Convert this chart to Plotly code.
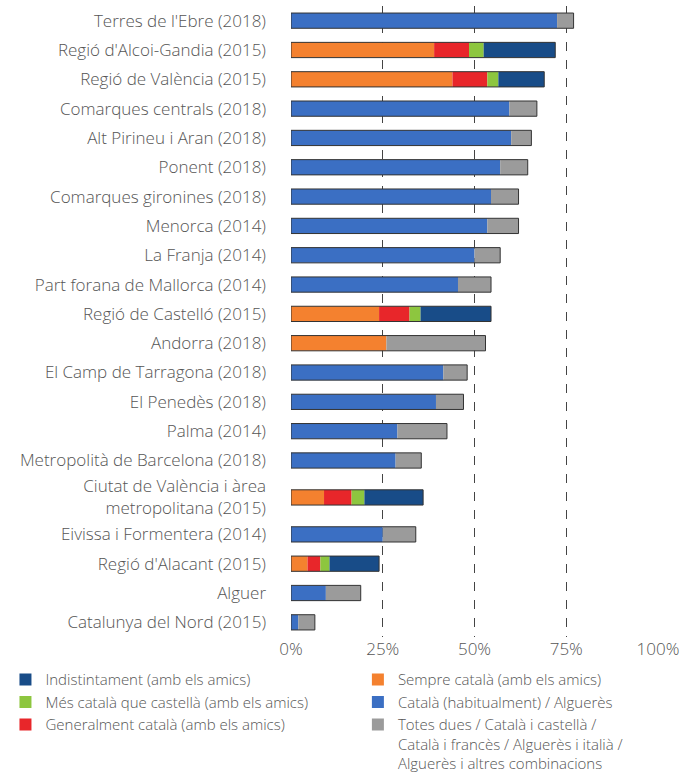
import plotly.graph_objects as go

categories = [
    "Terres de l'Ebre (2018)",
    "Regió d'Alcoi-Gandia (2015)",
    "Regió de València (2015)",
    "Comarques centrals (2018)",
    "Alt Pirineu i Aran (2018)",
    "Ponent (2018)",
    "Comarques gironines (2018)",
    "Menorca (2014)",
    "La Franja (2014)",
    "Part forana de Mallorca (2014)",
    "Regió de Castelló (2015)",
    "Andorra (2018)",
    "El Camp de Tarragona (2018)",
    "El Penedès (2018)",
    "Palma (2014)",
    "Metropolità de Barcelona (2018)",
    "Ciutat de València i àrea<br>metropolitana (2015)",
    "Eivissa i Formentera (2014)",
    "Regió d'Alacant (2015)",
    "Alguer",
    "Catalunya del Nord (2015)",
]

sempre     = [0, 39, 44, 0, 0, 0, 0, 0, 0, 0, 24, 26, 0, 0, 0, 0, 9, 0, 4.5, 0, 0]
general    = [0, 9.5, 9.5, 0, 0, 0, 0, 0, 0, 0, 8.3, 0, 0, 0, 0, 0, 7.5, 0, 3.5, 0, 0]
mes        = [0, 4, 3, 0, 0, 0, 0, 0, 0, 0, 3, 0, 0, 0, 0, 0, 3.5, 0, 2.5, 0, 0]
indist     = [0, 19.5, 12.5, 0, 0, 0, 0, 0, 0, 0, 19.2, 0, 0, 0, 0, 0, 16, 0, 13.5, 0, 0]
catala     = [72.5, 0, 0, 59.5, 60, 57, 54.5, 53.5, 50, 45.5, 0, 0, 41.5, 39.5, 29, 28.5, 0, 25, 0, 9.5, 2]
totes      = [4.5, 0, 0, 7.5, 5.5, 7.5, 7.5, 8.5, 7, 9, 0, 27, 6.5, 7.5, 13.5, 7, 0, 9, 0, 9.5, 4.5]

tick_vals = [0, 25, 50, 75, 100]
tick_text = ["0%", "25%", "50%", "75%", "100%"]

names = {
    "indist": "Indistintament (amb els amics)",
    "sempre": "Sempre català (amb els amics)",
    "mes": "Més català que castellà (amb els amics)",
    "catala": "Català (habitualment) / Alguerès",
    "general": "Generalment català (amb els amics)",
    "totes": "Totes dues / Català i castellà /<br>Català i francès / Alguerès i italià /<br>Alguerès i altres combinacions",
}
colors = {
    "sempre": "#f4812f",
    "general": "#e8262a",
    "mes": "#8dc63f",
    "indist": "#184c88",
    "catala": "#3b6fc3",
    "totes": "#9b9b9b",
}
series = {"sempre": sempre, "general": general, "mes": mes,
          "indist": indist, "catala": catala, "totes": totes}
stack_order = ["sempre", "general", "mes", "indist", "catala", "totes"]
legend_of = {"indist": "legend", "mes": "legend", "general": "legend",
             "sempre": "legend2", "catala": "legend2", "totes": "legend2"}
legend_rank = {"indist": 1, "mes": 2, "general": 3, "sempre": 1, "catala": 2, "totes": 3}

# row layout: the two-line category gets extra vertical room around it
two_line = [i for i, c in enumerate(categories) if "<br>" in c]
EXTRA = 0.26
row_pos = []
for i in range(len(categories)):
    p = float(i)
    for j in two_line:
        if i >= j:
            p += EXTRA
        if i >= j + 1:
            p += EXTRA
    row_pos.append(p)

FONT = "Open Sans"
TXT = "#555555"
BAR_W = 0.52
fig = go.Figure()
base = [0.0] * len(categories)
for key in stack_order:
    vals = series[key]
    fig.add_trace(go.Bar(
        y=row_pos, x=vals, base=list(base), orientation="h", width=BAR_W,
        name=names[key], marker=dict(color=colors[key], line=dict(width=0)),
        legend=legend_of[key], legendrank=legend_rank[key],
        customdata=categories, hovertemplate="%{customdata}: %{x}%<extra></extra>",
    ))
    base = [b + v for b, v in zip(base, vals)]

totals = base
fig.add_trace(go.Bar(
    y=row_pos, x=totals, base=[0] * len(categories), orientation="h", width=BAR_W,
    marker=dict(color="rgba(0,0,0,0)", line=dict(width=1, color="#333333")),
    showlegend=False, hoverinfo="skip",
))

legend_common = dict(orientation="v", xref="container", yref="container",
                     xanchor="left", yanchor="top", itemwidth=30, tracegroupgap=0,
                     traceorder="normal", bgcolor="rgba(0,0,0,0)", valign="top",
                     font=dict(family=FONT, size=15, color=TXT, weight=300))

fig.update_layout(
    width=683, height=773,
    barmode="overlay",
    plot_bgcolor="white", paper_bgcolor="white",
    margin=dict(l=291, r=25, t=6, b=136, autoexpand=False),
    font=dict(family=FONT, size=17, color=TXT, weight=300),
    xaxis=dict(range=[0, 100], tickvals=tick_vals, ticktext=tick_text, automargin=False,
               showgrid=True, gridcolor="#444444", griddash="dash", gridwidth=1,
               zeroline=False, showline=False, ticks="",
               tickfont=dict(family=FONT, size=17, color=TXT, weight=300)),
    yaxis=dict(range=[row_pos[-1] + 0.5, -0.5], tickvals=row_pos, ticktext=categories,
               showgrid=False, zeroline=False, ticks="", ticklabelstandoff=24,
               automargin=False,
               tickfont=dict(family=FONT, size=17, color=TXT, weight=300)),
    legend=dict(x=0.008, y=0.142, **legend_common),
    legend2=dict(x=0.524, y=0.142, **legend_common),
)
fig.write_html("out.html", post_script="document.body.style.margin='0px';",
               config={"displayModeBar": False})
